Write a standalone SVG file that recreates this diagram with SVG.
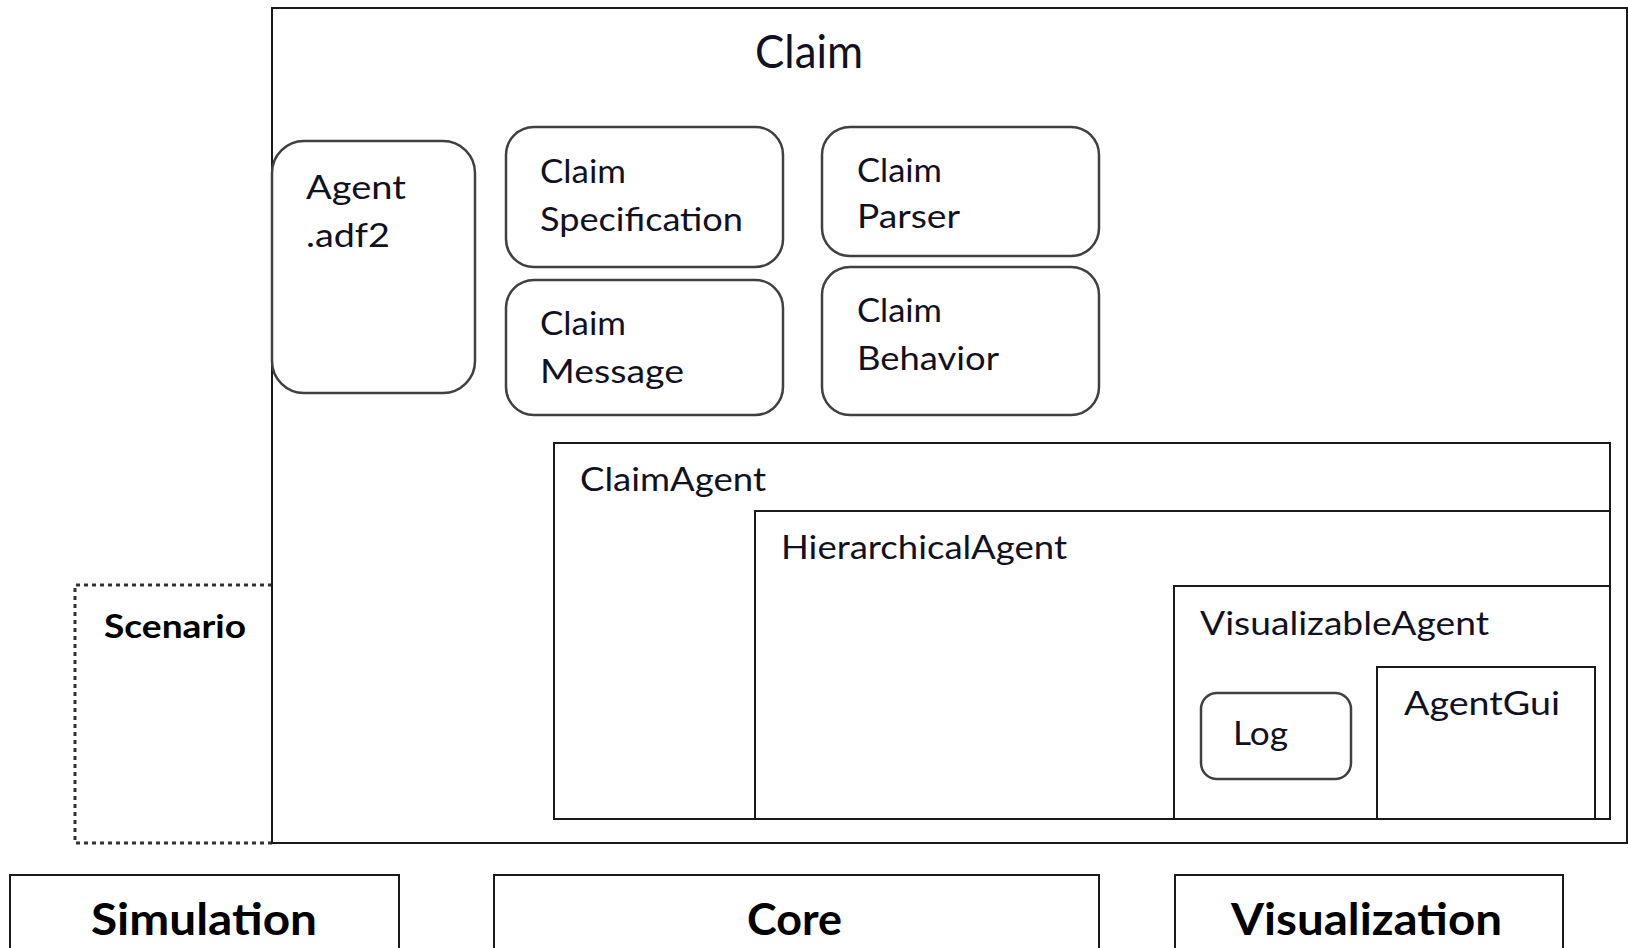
<svg xmlns="http://www.w3.org/2000/svg" width="1628" height="948" viewBox="0 0 1628 948">
  <style>
    .box { fill: none; stroke: #1a1a1a; stroke-width: 2; }
    .rbox { fill: #ffffff; stroke: #404040; stroke-width: 2.5; }
    .dotted { fill: none; stroke: #333333; stroke-width: 3; stroke-dasharray: 4 4; }
    .t { font-family: Lato, "Liberation Sans", sans-serif; font-size: 32px; fill: #111122; }
    .title { font-family: Lato, "Liberation Sans", sans-serif; font-size: 46px; fill: #111122; }
    .b { font-family: Lato, "Liberation Sans", sans-serif; font-size: 44px; font-weight: bold; fill: #000000; }
    .bs { font-family: Lato, "Liberation Sans", sans-serif; font-size: 32px; font-weight: bold; fill: #000000; }
  </style>
  <rect x="0" y="0" width="1628" height="948" fill="#ffffff"/>

  <g id="scenario">
    <path class="dotted" d="M272 585 H75 V843 H272"/>
    <text class="bs" x="104" y="638" textLength="142" lengthAdjust="spacingAndGlyphs">Scenario</text>
  </g>

  <g id="claim">
    <rect class="box" x="272" y="8" width="1355" height="835"/>
    <text class="title" x="755" y="68" textLength="108" lengthAdjust="spacingAndGlyphs">Claim</text>
  </g>

  <g id="agent-adf2">
    <rect class="rbox" x="272" y="141" width="203" height="252" rx="32" ry="32"/>
    <text class="t" x="306" y="199" textLength="100" lengthAdjust="spacingAndGlyphs">Agent</text>
    <text class="t" x="306" y="247" textLength="84" lengthAdjust="spacingAndGlyphs">.adf2</text>
  </g>

  <g id="claim-specification">
    <rect class="rbox" x="506" y="127" width="277" height="140" rx="28" ry="28"/>
    <text class="t" x="540" y="183" textLength="86" lengthAdjust="spacingAndGlyphs">Claim</text>
    <text class="t" x="540" y="231" textLength="203" lengthAdjust="spacingAndGlyphs">Specification</text>
  </g>

  <g id="claim-message">
    <rect class="rbox" x="506" y="280" width="277" height="135" rx="28" ry="28"/>
    <text class="t" x="540" y="335" textLength="86" lengthAdjust="spacingAndGlyphs">Claim</text>
    <text class="t" x="540" y="383" textLength="144" lengthAdjust="spacingAndGlyphs">Message</text>
  </g>

  <g id="claim-parser">
    <rect class="rbox" x="822" y="127" width="277" height="129" rx="28" ry="28"/>
    <text class="t" x="857" y="182" textLength="85" lengthAdjust="spacingAndGlyphs">Claim</text>
    <text class="t" x="857" y="228" textLength="103" lengthAdjust="spacingAndGlyphs">Parser</text>
  </g>

  <g id="claim-behavior">
    <rect class="rbox" x="822" y="267" width="277" height="148" rx="28" ry="28"/>
    <text class="t" x="857" y="322" textLength="85" lengthAdjust="spacingAndGlyphs">Claim</text>
    <text class="t" x="857" y="370" textLength="142" lengthAdjust="spacingAndGlyphs">Behavior</text>
  </g>

  <g id="claim-agent">
    <rect class="box" x="554" y="443" width="1056" height="376"/>
    <text class="t" x="580" y="491" textLength="186" lengthAdjust="spacingAndGlyphs">ClaimAgent</text>
  </g>

  <g id="hierarchical-agent">
    <rect class="box" x="755" y="511" width="855" height="308"/>
    <text class="t" x="781" y="559" textLength="286" lengthAdjust="spacingAndGlyphs">HierarchicalAgent</text>
  </g>

  <g id="visualizable-agent">
    <rect class="box" x="1174" y="586" width="436" height="233"/>
    <text class="t" x="1200" y="635" textLength="289" lengthAdjust="spacingAndGlyphs">VisualizableAgent</text>
  </g>

  <g id="log">
    <rect class="rbox" x="1201" y="693" width="150" height="86" rx="16" ry="16"/>
    <text class="t" x="1233" y="745" textLength="55" lengthAdjust="spacingAndGlyphs">Log</text>
  </g>

  <g id="agent-gui">
    <rect class="box" x="1377" y="667" width="218" height="152"/>
    <text class="t" x="1404" y="715" textLength="156" lengthAdjust="spacingAndGlyphs">AgentGui</text>
  </g>

  <g id="simulation">
    <rect class="box" x="10" y="875" width="389" height="90"/>
    <text class="b" x="91" y="935" textLength="226" lengthAdjust="spacingAndGlyphs">Simulation</text>
  </g>

  <g id="core">
    <rect class="box" x="494" y="875" width="605" height="90"/>
    <text class="b" x="747" y="935" textLength="95" lengthAdjust="spacingAndGlyphs">Core</text>
  </g>

  <g id="visualization">
    <rect class="box" x="1175" y="875" width="388" height="90"/>
    <text class="b" x="1231" y="935" textLength="271" lengthAdjust="spacingAndGlyphs">Visualization</text>
  </g>

  <g id="connectors"></g>
</svg>
